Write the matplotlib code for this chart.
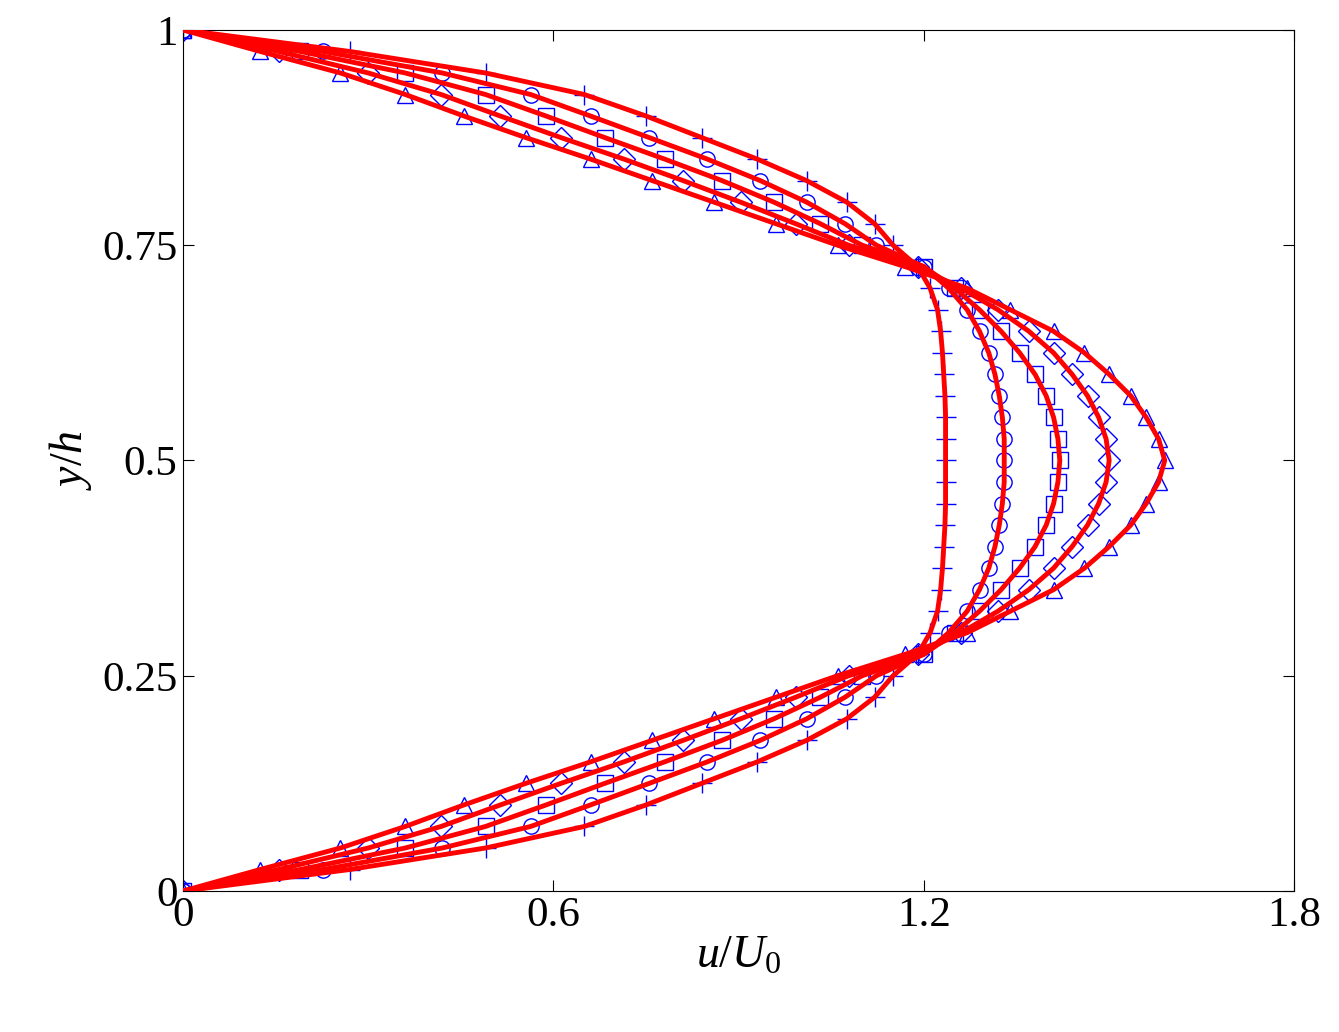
import matplotlib
matplotlib.use("Agg")
import matplotlib.pyplot as plt

plt.rcParams["font.family"] = ["Liberation Serif", "DejaVu Serif"]
plt.rcParams["mathtext.fontset"] = "custom"
plt.rcParams["mathtext.rm"] = "Liberation Serif"
plt.rcParams["mathtext.it"] = "Liberation Serif:italic"

# half profile y = 0 .. 0.5, mirrored to the top wall
y_half = [0, .025, .05, .075, .1, .125, .15, .175, .2, .225, .25, .275,
          .3, .325, .35, .375, .4, .425, .45, .475, .5]
u_plus = [0, .27, .49, .65, .75, .84, .93, 1.01, 1.075, 1.12, 1.15, 1.19,
          1.21, 1.222, 1.227, 1.23, 1.232, 1.234, 1.235, 1.235, 1.235]
u_circle = [0, .227, .42, .563, .66, .755, .849, .935, 1.01, 1.072, 1.123, 1.20,
            1.24, 1.27, 1.29, 1.305, 1.315, 1.322, 1.327, 1.33, 1.33]
u_square = [0, .19, .36, .49, .588, .683, .78, .873, .957, 1.032, 1.10, 1.20,
            1.25, 1.29, 1.325, 1.355, 1.38, 1.398, 1.41, 1.417, 1.42]
u_diamond = [0, .155, .30, .418, .514, .612, .714, .81, .903, .992, 1.078, 1.19,
             1.26, 1.32, 1.37, 1.41, 1.44, 1.465, 1.483, 1.495, 1.50]
u_triangle = [0, .125, .255, .36, .455, .555, .66, .76, .86, .96, 1.06, 1.17,
              1.27, 1.34, 1.41, 1.46, 1.50, 1.535, 1.56, 1.58, 1.59]

series = [(u_plus, "+"), (u_circle, "o"), (u_square, "s"),
          (u_diamond, "D"), (u_triangle, "^")]

y_full = y_half + [1 - v for v in y_half[-2::-1]]

fig = plt.figure(figsize=(13.39, 10.32), dpi=100)
ax = fig.add_axes([0.1367, 0.1366, 0.8300, 0.8344])

for u, m in series:
    u_full = u + u[-2::-1]
    ax.plot(u_full, y_full, linestyle="none", marker=m, markersize=14 if m == "+" else 11,
            markerfacecolor="none", markeredgecolor="blue", markeredgewidth=1.0, zorder=2)
    ax.plot(u_full, y_full, color="red", linewidth=3.5, zorder=3)

ax.set_xlim(0, 1.8)
ax.set_ylim(0, 1)
ax.set_xticks([0, 0.6, 1.2, 1.8])
ax.set_xticklabels(["0", "0.6", "1.2", "1.8"])
ax.set_yticks([0, 0.25, 0.5, 0.75, 1])
ax.set_yticklabels(["0", "0.25", "0.5", "0.75", "1"])
ax.tick_params(direction="in", length=8, top=True, right=True, labelsize=31, pad=4)
ax.set_xlabel("$u/U_0$", fontsize=33, labelpad=0)
ax.set_ylabel("$y/h$", fontsize=33, labelpad=6)

fig.savefig("out.png", dpi=100, facecolor="white")
